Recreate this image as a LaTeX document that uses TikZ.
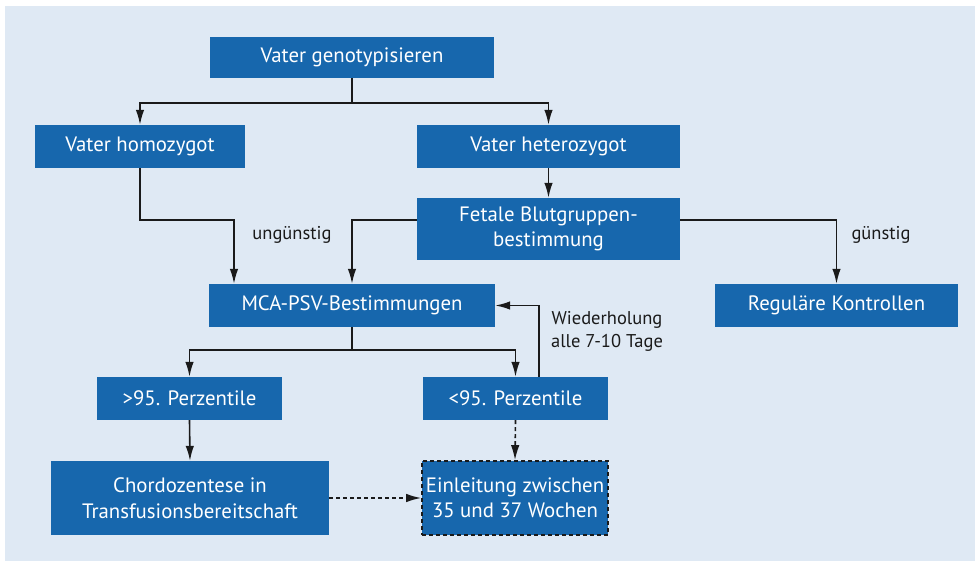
\documentclass[tikz,border=0pt]{standalone}
\usepackage{fontspec}
\setmainfont{PT Sans}
\usetikzlibrary{arrows.meta,calc}
\definecolor{boxblue}{HTML}{1767AD}
\definecolor{bgblue}{HTML}{DFE9F4}
\definecolor{linec}{HTML}{1A1A1A}
\begin{document}
\begin{tikzpicture}[x=1pt,y=-1pt,
  box/.style={fill=boxblue,text=white,inner sep=0pt,align=center,
    font=\fontsize{20.8}{25.5}\selectfont},
  lbl/.style={text=linec,inner sep=0pt,align=center,font=\fontsize{18.5}{23}\selectfont},
  arr/.style={draw=linec,line width=1.6pt,-{Latex[length=15pt,width=8.5pt]}},
  dsh/.style={arr,dash pattern=on 4pt off 3pt}]
\useasboundingbox (0,0) rectangle (975,561);
\fill[bgblue] (5,6) rectangle (975,561);
% boxes
\node[box,minimum width=284pt,minimum height=41pt] (gen) at (352,57.5) {Vater genotypisieren};
\node[box,minimum width=210pt,minimum height=43pt] (homo) at (140,146.5) {Vater homozygot};
\node[box,minimum width=263pt,minimum height=43pt] (hetero) at (548.5,146.5) {Vater heterozygot};
\node[box,minimum width=263pt,minimum height=62pt] (fetal) at (548.5,229) {Fetale Blutgruppen-\\bestimmung};
\node[box,minimum width=286pt,minimum height=43pt] (mca) at (352,305.5) {MCA-PSV-Bestimmungen};
\node[box,minimum width=243pt,minimum height=43pt] (reg) at (836.5,305.5) {Reguläre Kontrollen};
\node[box,minimum width=185pt,minimum height=43pt] (gt) at (189.5,398.5) {>95. Perzentile};
\node[box,minimum width=185pt,minimum height=43pt] (lt) at (515.5,398.5) {<95. Perzentile};
\node[box,minimum width=278pt,minimum height=74pt] (chord) at (190,498) {Chordozentese in\\Transfusionsbereitschaft};
\node[box,minimum width=186pt,minimum height=74pt,draw=linec,line width=1.6pt,dash pattern=on 4pt off 3pt] (einl) at (515,498) {Einleitung zwischen\\35 und 37 Wochen};
% labels
\node[lbl] (ung) at (292,235) {ungünstig};
\node[lbl] (gue) at (881,235) {günstig};
\node[lbl] (wdh) at (607,331) {Wiederholung\\alle 7-10 Tage};
% connectors
\coordinate (j1) at (352,103);
\draw[arr] (gen.south) -- (j1) -| (homo.north);
\draw[arr] (j1) -| (hetero.north);
\draw[arr] (hetero.south) -- (fetal.north);
\coordinate (c1) at (234,220);
\draw[arr] (homo.south) |- (c1) -- (c1 |- mca.north);
\draw[arr] ([yshift=9pt]fetal.west) -| (mca.north);
\draw[arr] ([yshift=9pt]fetal.east) -| (reg.north);
\coordinate (j2) at (352,350);
\draw[arr] (mca.south) -- (j2) -| (gt.north);
\draw[arr] (j2) -| (lt.north);
\draw[arr] ([xshift=23.5pt]lt.north) |- (mca.east);
\draw[arr] (gt.south) -- (chord.north);
\draw[dsh] (lt.south) -- (einl.north);
\draw[dsh] (chord.east) -- (einl.west);
\end{tikzpicture}
\end{document}
